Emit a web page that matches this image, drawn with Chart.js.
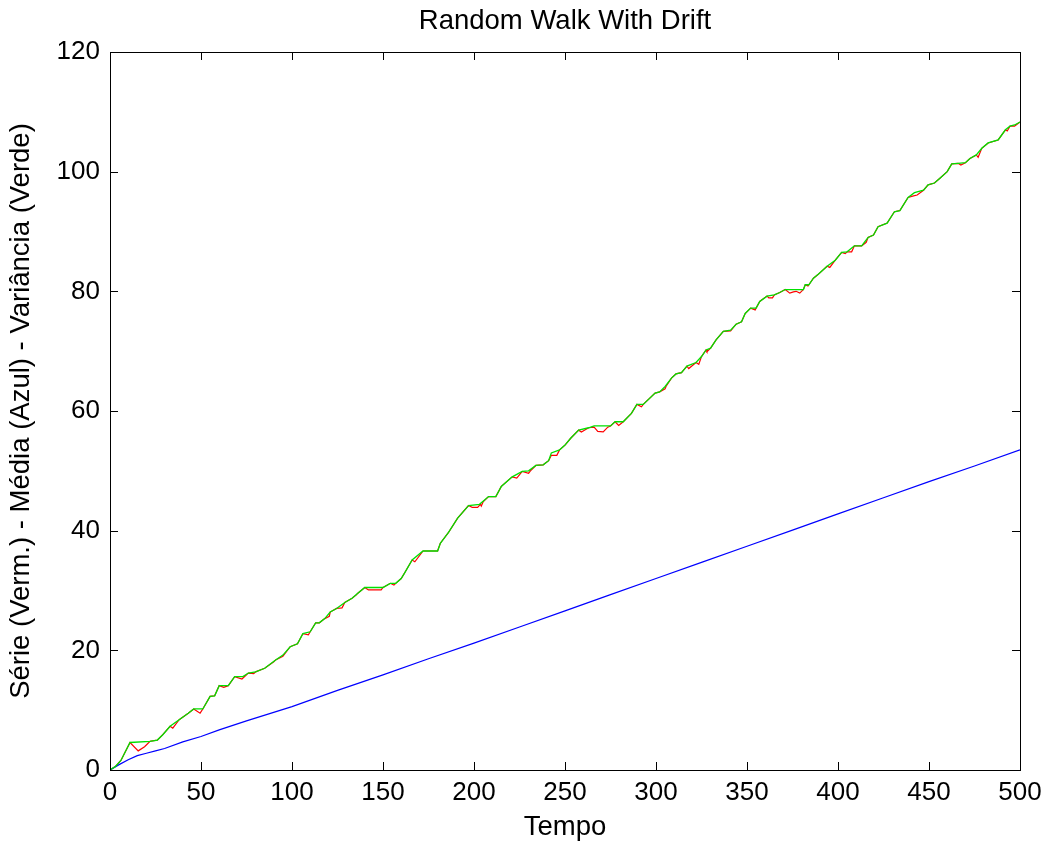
<!DOCTYPE html>
<html>
<head>
<meta charset="utf-8">
<script src="https://cdn.jsdelivr.net/npm/chart.js@4/dist/chart.umd.min.js"></script>
<style>
html,body{margin:0;padding:0;background:#fff;}
canvas{display:block;}
</style>
</head>
<body>
<canvas id="c" width="1049" height="844"></canvas>
<script>
const titulo = "Random Walk With Drift";
const rotuloX = "Tempo";
const rotuloY = "Série (Verm.) - Média (Azul) - Variância (Verde)";

const ticksX = [0,50,100,150,200,250,300,350,400,450,500];
const ticksY = [0,20,40,60,80,100,120];

const tempoVerde = [0,3,6,8,11,22,26,29,33,38,43,46,51,55,57.5,60,65,68.5,73,76,80,85,91,95,99,103,106,110,113,115,118,121,124.5,129,133,136,140,150,154,157,160,162,166,172,180,181.5,186,191,197,203,204.5,208,212,215,221,226.5,230,234,238,241,242.5,247,250,253,257.5,263,266,275,277.5,282,286.5,289.5,293,299.5,302,305,308.5,311,314,317,322,325,327.5,330,333,337,341,344,347,349,352,355,357,361,365,368,371,381,382,384,386.5,389,394,398.5,402,405,409,413,416.5,419.5,422,427,431,434,438.5,442,447,449.5,453,456,460,462.5,466,470,472.5,476,479,482.5,488,492,494.5,497,500];
const verde = [0,0.6,1.6,2.8,4.6,4.8,5.0,5.9,7.3,8.4,9.5,10.2,10.2,12.3,12.4,14.1,14.1,15.6,15.6,16.2,16.4,17.0,18.4,19.2,20.6,21.1,22.8,23.1,24.6,24.6,25.3,26.4,27,28,28.7,29.5,30.5,30.5,31.2,31.2,32,33,35.1,36.6,36.6,37.9,39.7,42.1,44.2,44.4,44.8,45.7,45.7,47.4,49,49.9,50,50.9,51,51.7,53,53.5,54.3,55.4,56.8,57.2,57.5,57.5,58.2,58.2,59.6,61.1,61.1,63,63.2,64.1,65.5,66.2,66.4,67.5,68.1,69.1,70.2,70.5,71.9,73.3,73.5,74.5,74.9,76.3,77.2,77.2,78.3,79.2,79.4,79.8,80.3,80.3,81.1,81.1,82.2,82.8,84.2,85.2,86.5,86.6,87.6,87.6,89,89.4,90.8,91.4,93.3,93.5,95.7,96.5,96.9,97.8,98.1,98.9,100,101.3,101.4,101.5,102.2,102.8,103.9,104.8,105.3,107,107.6,107.8,108.3];

const tempoVermelho = [0,3,6,8,11,15.5,19,22,26,29,33,34.5,38,43,46,49.5,51,55,57.5,60,62.5,65,68.5,72.5,76,79,80,85,90,91,95,99,103,106,109,110,113,115,118,120.5,121,124.5,127.5,129,133,135.5,136,140,142,149,150,154,156,157,160,162,166,167.5,172,180,181.5,186,191,197,199,202,203.5,204,205,208,212,215,221,223.5,226.5,230,231,234,238,241,242.5,245.5,247,250,253,257.5,259,263,266,268,271,273.5,275,277.5,279.5,282,286.5,289.5,292,293,299.5,302,305,305.5,308.5,311,314,317,318,322,323.5,325,327.5,328,330,333,337,341,344,347,349,352,354.5,355,357,361,362,364,365,368,371,373.5,375.5,377,379,381,382,383.5,384,386.5,389,394,395.5,398.5,402,404,405,407.5,409,413,415.5,416.5,419.5,422,427,431,434,438.5,441,443.5,447,449.5,453,456,460,462.5,466,467.5,470,472.5,476,477,479,482.5,488,492,493,494.5,497,500];
const vermelho = [0,0.6,1.6,2.8,4.6,3.2,3.9,4.8,5.0,5.9,7.3,7.0,8.4,9.5,10.2,9.5,10.2,12.3,12.4,14.1,13.8,14.1,15.6,15.2,16.2,16.1,16.4,17.0,18.1,18.4,19.0,20.6,21.1,22.8,22.6,23.1,24.6,24.6,25.3,25.7,26.4,27,27.1,28,28.7,29.3,29.5,30.5,30.1,30.1,30.5,31.2,30.9,31.2,32,33,35.1,34.8,36.6,36.6,37.9,39.7,42.1,44.2,43.9,43.9,44.4,44.1,44.8,45.7,45.7,47.4,49,48.8,49.9,49.6,50,50.9,51,51.7,52.6,52.6,53.5,54.3,55.4,56.8,56.5,57.2,57.3,56.6,56.5,57.3,57.5,58.2,57.6,58.2,59.6,61.1,60.7,61.1,63,63.2,63.7,64.1,65.5,66.2,66.4,67.5,67.1,68.1,67.8,69.1,70.2,69.9,70.5,71.9,73.3,73.4,74.5,74.9,76.3,77.2,76.9,77.2,78.3,79.2,78.9,78.9,79.4,79.8,80.3,79.7,79.9,80.0,79.7,80.3,81.1,80.9,81.1,82.2,82.8,84.2,84.0,85.2,86.5,86.3,86.6,86.6,87.6,87.6,88.2,89,89.4,90.8,91.4,93.3,93.5,95.7,95.9,96.1,96.9,97.8,98.1,98.9,100,101.3,101.4,101.1,101.5,102.2,102.8,102.4,103.9,104.8,105.3,107,106.8,107.6,107.6,108.3];

const tempoAzul = [0,5,10,15,20,25,30,40,50,60,75,100,125,150,175,200,225,250,275,300,325,350,375,400,425,450,475,500];
const azul = [0,0.9,1.7,2.4,2.8,3.2,3.6,4.7,5.6,6.7,8.2,10.6,13.3,15.9,18.6,21.2,23.9,26.6,29.3,32.0,34.7,37.4,40.1,42.8,45.5,48.2,50.8,53.5];

const pts = (xs, ys) => xs.map((t, i) => ({x: t, y: ys[i]}));

const FONT = "'Liberation Sans', Arial, sans-serif";

const moldura = {
  id: 'moldura',
  afterDatasetsDraw(chart) {
    const {ctx, chartArea: a, scales: {x, y}} = chart;
    ctx.save();
    ctx.strokeStyle = '#000';
    ctx.lineWidth = 1;
    ctx.strokeRect(Math.round(a.left) + 0.5, Math.round(a.top) + 0.5, Math.round(a.right - a.left), Math.round(a.bottom - a.top));
    const L = 8;
    ctx.beginPath();
    x.ticks.forEach(t => {
      const px = Math.round(x.getPixelForValue(t.value)) + 0.5;
      ctx.moveTo(px, a.bottom); ctx.lineTo(px, a.bottom - L);
      ctx.moveTo(px, a.top); ctx.lineTo(px, a.top + L);
    });
    y.ticks.forEach(t => {
      const py = Math.round(y.getPixelForValue(t.value)) + 0.5;
      ctx.moveTo(a.left, py); ctx.lineTo(a.left + L, py);
      ctx.moveTo(a.right, py); ctx.lineTo(a.right - L, py);
    });
    ctx.stroke();
    ctx.restore();
  }
};

new Chart(document.getElementById('c'), {
  type: 'line',
  data: {
    datasets: [
      {label: 'Variância', data: pts(tempoVerde, verde), borderColor: 'rgb(0,225,0)', borderWidth: 1.3, pointRadius: 0, tension: 0, fill: false},
      {label: 'Média', data: pts(tempoAzul, azul), borderColor: '#0000ff', borderWidth: 1.2, pointRadius: 0, tension: 0, fill: false},
      {label: 'Série', data: pts(tempoVermelho, vermelho), borderColor: '#ff0000', borderWidth: 1.2, pointRadius: 0, tension: 0, fill: false}
    ]
  },
  options: {
    responsive: false,
    animation: false,
    layout: {padding: {left: 0, right: 29, top: 0, bottom: 0}},
    plugins: {
      legend: {display: false},
      tooltip: {enabled: false},
      title: {
        display: true, text: titulo, fullSize: false,
        color: '#000', font: {family: FONT, size: 27.5, weight: 'normal', lineHeight: 1.2},
        padding: {top: 5, bottom: 14}
      }
    },
    scales: {
      x: {
        type: 'linear', min: 0, max: 500,
        afterBuildTicks(s) { s.ticks = ticksX.map(v => ({value: v})); },
        afterFit(s) { s.height = 74; },
        grid: {display: false, drawTicks: false},
        border: {display: true, color: '#000', width: 1},
        ticks: {color: '#000', font: {family: FONT, size: 26}, padding: 7, maxRotation: 0},
        title: {display: true, text: rotuloX, color: '#000', font: {family: FONT, size: 27.5, lineHeight: 1.2}, padding: {top: 0, bottom: 0}}
      },
      y: {
        type: 'linear', min: 0, max: 120,
        afterBuildTicks(s) { s.ticks = ticksY.map(v => ({value: v})); },
        afterFit(s) { s.width = 110; },
        grid: {display: false, drawTicks: false},
        border: {display: true, color: '#000', width: 1},
        ticks: {color: '#000', font: {family: FONT, size: 26}, padding: 10},
        title: {display: true, text: rotuloY, color: '#000', font: {family: FONT, size: 27.5, lineHeight: 1.2}, padding: {top: 5, bottom: 0}}
      }
    }
  },
  plugins: [moldura]
});
</script>
</body>
</html>
